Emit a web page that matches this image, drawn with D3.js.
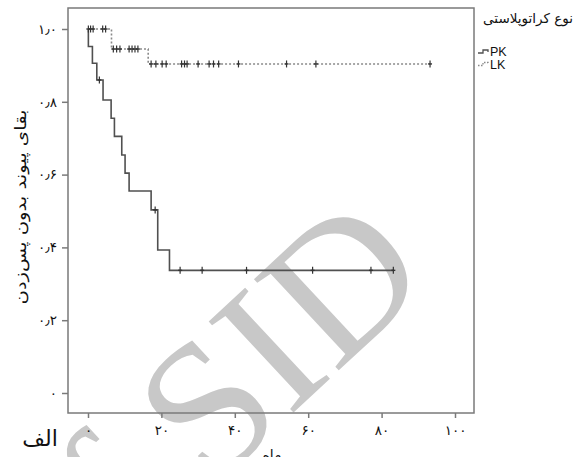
<!DOCTYPE html>
<html>
<head>
<meta charset="utf-8">
<script src="https://cdn.jsdelivr.net/npm/d3@7"></script>
<style>
  body { margin: 0; background: #fff; }
  svg { display: block; }
</style>
</head>
<body>
<svg id="chart"></svg>
<script>
// step points: [time in months, survival]
const pkTimes = [0, 0.1, 1.2, 2.4, 4.1, 6.3, 7.2, 9.2, 10.1, 11.2, 17.2, 19.0, 22.2];
const pkSurv = [1.0, 0.952, 0.906, 0.860, 0.805, 0.755, 0.705, 0.654, 0.604, 0.555, 0.503, 0.393, 0.337];
const pkEnd = 83.2;
const pkCensor = [3.1, 18.3, 25.1, 31.1, 43.2, 61.2, 77.1, 83.2];

const lkTimes = [0, 6.4, 16.4];
const lkSurv = [1.0, 0.945, 0.904];
const lkEnd = 93.2;
const lkCensor = [0.1, 0.7, 1.4, 4.0, 4.8, 6.9, 7.8, 8.7, 11.2, 12.0, 12.8, 13.6,
  17.2, 18.5, 20.2, 21.3, 25.5, 26.3, 27.0, 30.0, 33.0, 34.2, 35.6, 41.0, 54.1, 62.1, 93.2];

const xTicks = [0, 20, 40, 60, 80, 100];
const xTickLabels = ['۰', '۲۰', '۴۰', '۶۰', '۸۰', '۱۰۰'];
const yTicks = [0, 0.2, 0.4, 0.6, 0.8, 1.0];
const yTickLabels = ['۰', '۰٫۲', '۰٫۴', '۰٫۶', '۰٫۸', '۱٫۰'];

const groups = ['PK', 'LK'];

const W = 574, H = 457;
const frame = {l: 68, r: 474, t: 8, b: 413};
const fa = "'DejaVu Sans', sans-serif";

const $svg = d3.select('#chart').attr('width', W).attr('height', H);

const x = d3.scaleLinear().domain([0, 100]).range([88, 455]);
const y = d3.scaleLinear().domain([0, 1]).range([393, 29]);

// watermark
$svg.append('text')
  .text('of SID')
  .attr('font-family', "'Liberation Serif', serif")
  .attr('font-size', 190)
  .attr('fill', '#c8c8c8')
  .attr('text-anchor', 'middle')
  .attr('transform', 'translate(248,455) rotate(-43)');

// frame
$svg.append('rect')
  .attr('x', frame.l).attr('y', frame.t)
  .attr('width', frame.r - frame.l).attr('height', frame.b - frame.t)
  .attr('fill', 'none').attr('stroke', '#7a7a7a').attr('stroke-width', 1.5);

const yAxis = $svg.append('g')
  .attr('transform', 'translate(' + frame.l + ',0)')
  .call(d3.axisLeft(y).tickValues(yTicks).tickSize(6).tickPadding(5)
    .tickFormat((d, i) => yTickLabels[i]));
const xAxis = $svg.append('g')
  .attr('transform', 'translate(0,' + frame.b + ')')
  .call(d3.axisBottom(x).tickValues(xTicks).tickSize(5).tickPadding(7)
    .tickFormat((d, i) => xTickLabels[i]));
[yAxis, xAxis].forEach((g) => {
  g.select('.domain').remove();
  g.selectAll('line').attr('stroke', '#7a7a7a').attr('stroke-width', 1.5);
  g.selectAll('text').attr('font-family', fa).attr('font-size', 13.5).attr('fill', '#111');
});

const stepPath = (times, surv, end) => {
  const pts = [];
  times.forEach((t, i) => {
    if (i > 0) pts.push([t, surv[i - 1]]);
    pts.push([t, surv[i]]);
  });
  pts.push([end, surv[surv.length - 1]]);
  return d3.line().x((d) => x(d[0])).y((d) => y(d[1]))(pts);
};
const survAt = (times, surv, t) => {
  let s = surv[0];
  times.forEach((tt, i) => { if (tt <= t) s = surv[i]; });
  return s;
};

const series = [
  {times: pkTimes, surv: pkSurv, end: pkEnd, censor: pkCensor, color: '#505050', dash: null},
  {times: lkTimes, surv: lkSurv, end: lkEnd, censor: lkCensor, color: '#8a8a8a', dash: '2,2'}
];

series.forEach((s) => {
  $svg.append('path')
    .attr('d', stepPath(s.times, s.surv, s.end))
    .attr('fill', 'none')
    .attr('stroke', s.color)
    .attr('stroke-width', 1.6)
    .attr('stroke-dasharray', s.dash);
  const marks = $svg.append('g').selectAll('g')
    .data(s.censor).enter().append('g')
    .attr('transform', (t) => 'translate(' + x(t) + ',' + y(survAt(s.times, s.surv, t)) + ')');
  marks.append('line').attr('x1', 0).attr('x2', 0).attr('y1', -3.5).attr('y2', 3.5)
    .attr('stroke', '#333').attr('stroke-width', 1.2);
  marks.append('line').attr('x1', -2).attr('x2', 2).attr('y1', 0).attr('y2', 0)
    .attr('stroke', '#333').attr('stroke-width', 1.4);
});

// axis titles
$svg.append('text')
  .text('بقای پیوند بدون پس‌زدن')
  .attr('font-family', fa).attr('font-size', 15.5).attr('fill', '#111')
  .attr('text-anchor', 'middle')
  .attr('textLength', 195).attr('lengthAdjust', 'spacingAndGlyphs')
  .attr('transform', 'translate(26,207) rotate(-90)');
$svg.append('text')
  .text('ماه')
  .attr('font-family', fa).attr('font-size', 14).attr('fill', '#111')
  .attr('text-anchor', 'middle')
  .attr('x', 272).attr('y', 460);
$svg.append('text')
  .text('الف')
  .attr('font-family', fa).attr('font-size', 22).attr('fill', '#111')
  .attr('text-anchor', 'middle')
  .attr('x', 40).attr('y', 446);

// legend
const legend = $svg.append('g');
legend.append('text')
  .text('نوع کراتوپلاستی')
  .attr('font-family', fa).attr('font-size', 13.5).attr('fill', '#111')
  .attr('text-anchor', 'end')
  .attr('x', 573).attr('y', 23);
groups.forEach((g, i) => {
  const ly = 53 + i * 12.5;
  legend.append('path')
    .attr('d', 'M478,' + ly + 'H483V' + (ly - 3) + 'H488V' + (ly - 1))
    .attr('fill', 'none')
    .attr('stroke', series[i].color)
    .attr('stroke-width', 1.3)
    .attr('stroke-dasharray', series[i].dash ? '1.5,1.5' : null);
  legend.append('text')
    .text(g)
    .attr('font-family', "'Liberation Sans', Arial, sans-serif").attr('font-size', 12.5).attr('fill', '#111')
    .attr('x', 490).attr('y', ly + 3);
});
</script>
</body>
</html>
